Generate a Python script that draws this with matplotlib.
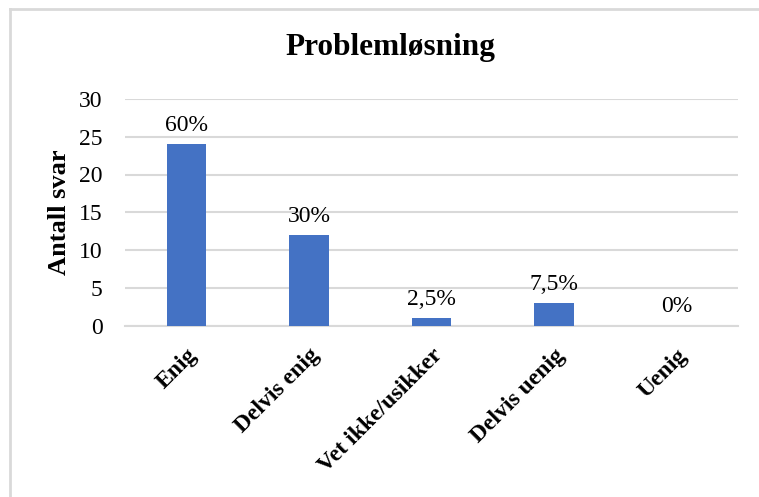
import matplotlib.pyplot as plt
from matplotlib.lines import Line2D

# Problemløsning - antall svar
categories = ["Enig", "Delvis enig", "Vet ikke/usikker", "Delvis uenig", "Uenig"]
counts = [24, 12, 1, 3, 0]
pct_labels = ["60%", "30%", "2,5%", "7,5%", "0%"]
y_ticks = [0, 5, 10, 15, 20, 25, 30]

plt.rcParams['font.family'] = ['Liberation Serif', 'DejaVu Serif']

fig = plt.figure(figsize=(7.59, 4.97), dpi=100)
ax = fig.add_axes([125/759, 1 - 325.5/497, 613/759, 226.5/497])

x = range(len(categories))
bars = ax.bar(x, counts, width=0.32, color='#4472C4', zorder=3)

for b, lab in zip(bars, pct_labels):
    ax.annotate(lab, (b.get_x() + b.get_width()/2, b.get_height()),
                xytext=(0, 6), textcoords='offset points',
                ha='center', va='bottom', fontsize=17)

ax.set_xlim(-0.5, len(categories) - 0.5)
ax.set_ylim(0, 30)
ax.set_yticks(y_ticks)
ax.set_yticklabels([str(t) for t in y_ticks], fontsize=17)
ax.yaxis.grid(True, color='#D9D9D9', linewidth=1.5, zorder=0)
ax.set_xticks(list(x))
ax.set_xticklabels(categories, rotation=45, ha='right', rotation_mode='anchor',
                   fontsize=17, fontweight='bold')
ax.tick_params(axis='both', length=0)
ax.tick_params(axis='y', pad=16)
ax.tick_params(axis='x', pad=14)
for s in ['top', 'right', 'left']:
    ax.spines[s].set_visible(False)
ax.spines['bottom'].set_color('#D9D9D9')
ax.spines['bottom'].set_linewidth(1.5)

ax.set_ylabel("Antall svar", fontsize=19, fontweight='bold', labelpad=6)

fig.text(390/759, 1 - 48/497, "Problemløsning", ha='center', va='center',
         fontsize=22.5, fontweight='bold')

# ramme
fig.add_artist(Line2D([10/759, 10/759], [0, 1 - 9/497], color='#D9D9D9', linewidth=2))
fig.add_artist(Line2D([10/759, 1], [1 - 9/497, 1 - 9/497], color='#D9D9D9', linewidth=2))

fig.savefig('out.png', dpi=100)
